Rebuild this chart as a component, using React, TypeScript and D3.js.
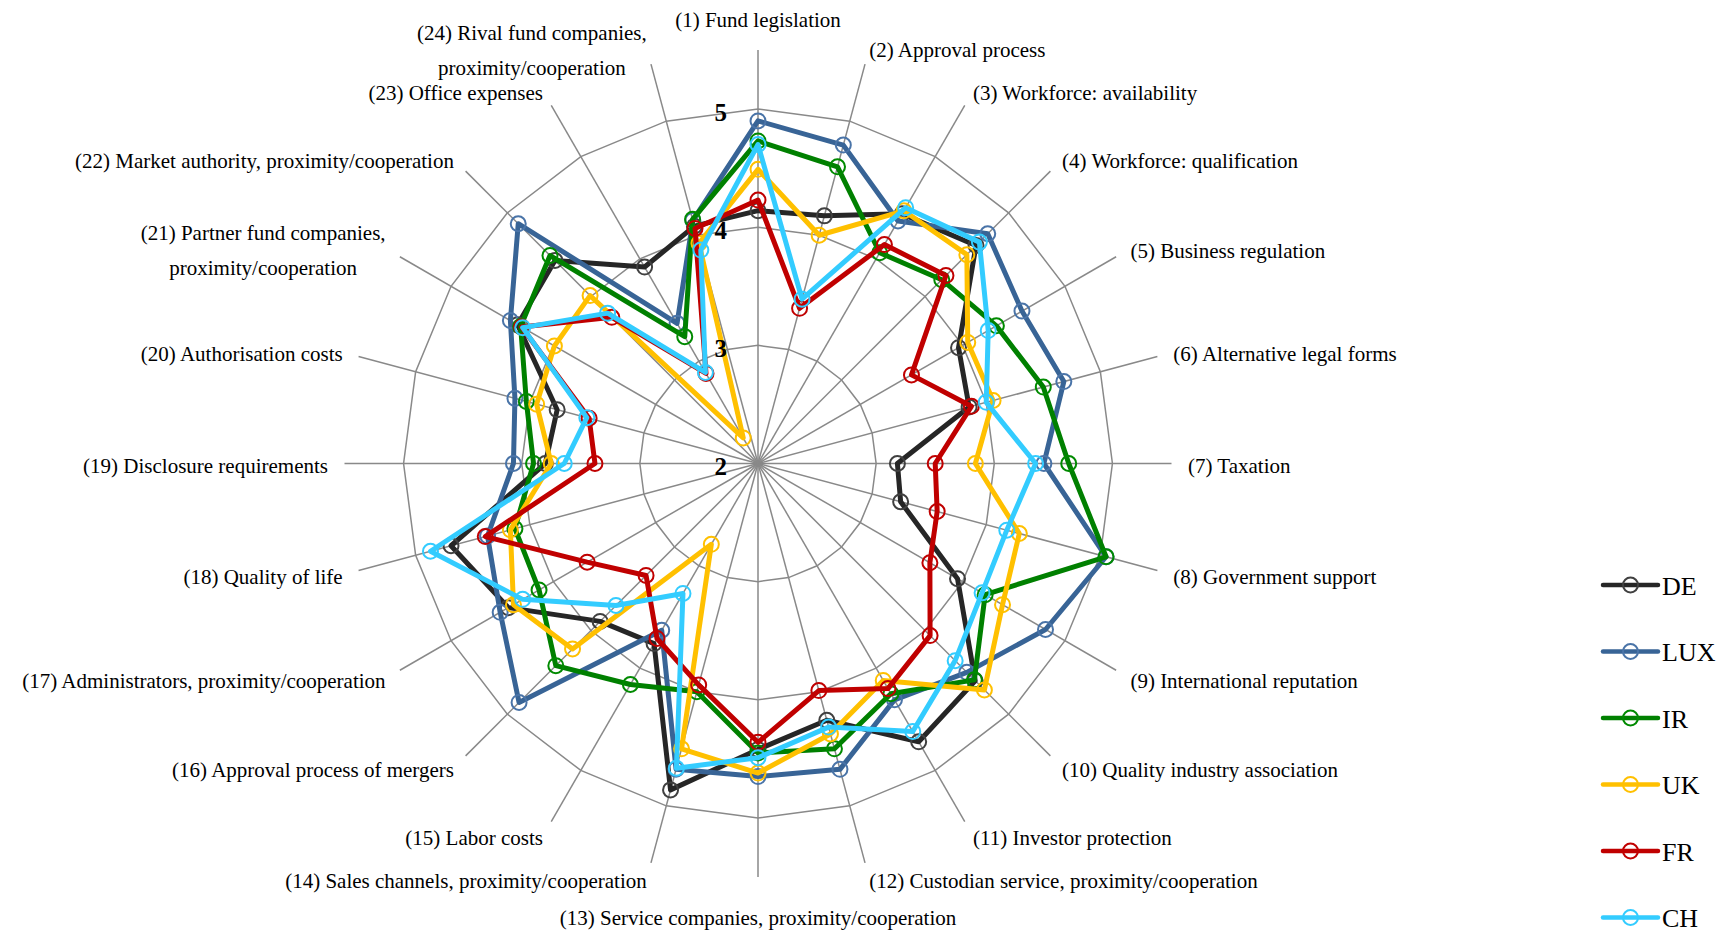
import { useEffect, useRef } from "react";
import * as d3 from "d3";

const CATEGORIES = [
  "(1) Fund legislation",
  "(2) Approval process",
  "(3) Workforce: availability",
  "(4) Workforce: qualification",
  "(5) Business regulation",
  "(6) Alternative legal forms",
  "(7) Taxation",
  "(8) Government support",
  "(9) International reputation",
  "(10) Quality industry association",
  "(11) Investor protection",
  "(12) Custodian service, proximity/cooperation",
  "(13) Service companies, proximity/cooperation",
  "(14) Sales channels, proximity/cooperation",
  "(15) Labor costs",
  "(16) Approval process of mergers",
  "(17) Administrators, proximity/cooperation",
  "(18) Quality of life",
  "(19) Disclosure requirements",
  "(20) Authorisation costs",
  "(21) Partner fund companies,\nproximity/cooperation",
  "(22) Market authority, proximity/cooperation",
  "(23) Office expenses",
  "(24) Rival fund companies,\nproximity/cooperation",
];

const DE = [4.14, 4.17, 4.44, 4.61, 3.96, 3.85, 3.18, 3.25, 3.95, 4.6, 4.72, 4.25, 4.42, 4.86, 3.76, 3.89, 4.44, 4.69, 3.8, 3.76, 4.35, 4.43, 3.92, 4.08];
const LUX = [4.9, 4.79, 4.37, 4.75, 4.58, 4.68, 4.42, 5.05, 4.81, 4.5, 4.31, 4.68, 4.65, 4.68, 3.63, 4.86, 4.52, 4.37, 4.07, 4.13, 4.42, 4.87, 3.37, 4.13];
const IR = [4.73, 4.6, 4.06, 4.2, 4.33, 4.5, 4.63, 5.05, 4.22, 4.59, 4.25, 4.5, 4.45, 4.0, 4.16, 4.42, 4.14, 4.13, 3.9, 4.03, 4.32, 4.49, 3.24, 4.14];
const UK = [4.49, 4.0, 4.47, 4.5, 4.05, 4.06, 3.84, 4.29, 4.39, 4.71, 4.12, 4.37, 4.62, 4.5, 2.79, 4.22, 4.39, 4.17, 3.75, 3.94, 3.99, 4.01, 2.25, 3.93];
const FR = [4.23, 3.36, 4.14, 4.25, 3.5, 3.87, 3.5, 3.57, 3.68, 4.06, 4.2, 3.99, 4.36, 3.94, 3.71, 3.34, 3.67, 4.39, 3.38, 3.48, 4.31, 3.75, 2.88, 4.06];
const CH = [4.7, 3.44, 4.5, 4.65, 4.25, 4.0, 4.35, 4.18, 4.19, 4.36, 4.62, 4.31, 4.49, 4.67, 3.27, 3.7, 4.3, 4.87, 3.64, 3.5, 4.3, 3.8, 2.89, 3.87];

const SERIES_NAMES = ["DE", "LUX", "IR", "UK", "FR", "CH"];
const SERIES_VALUES = [DE, LUX, IR, UK, FR, CH];
const LINE_COLORS = ["#262626", "#386496", "#008000", "#ffc000", "#c00000", "#33ccff"];
const MARKER_COLORS = ["#404040", "#4a74a8", "#008a00", "#ffc000", "#c00000", "#33ccff"];

const TICKS = [2, 3, 4, 5];
const AXIS_MIN = 2;
const AXIS_MAX = 5.5;

const FONT = '"Liberation Serif", "Times New Roman", Times, serif';

export default function App() {
  const svgRef = useRef<SVGSVGElement>(null);

  useEffect(() => {
    if (!svgRef.current) return;
    const svg = d3.select(svgRef.current);
    svg.selectAll("*").remove();

    const width = 1731;
    const height = 931;
    const cx = 758;
    const cy = 463.5;
    const n = CATEGORIES.length;
    const step = (2 * Math.PI) / n;

    svg.attr("viewBox", `0 0 ${width} ${height}`).style("font-family", FONT);

    const r = d3.scaleLinear().domain([AXIS_MIN, AXIS_MAX]).range([0, 413.5]);

    const g = svg.append("g").attr("transform", `translate(${cx},${cy})`);

    // grid rings
    const ring = d3
      .lineRadial<number>()
      .angle((_, i) => i * step)
      .radius((d) => r(d))
      .curve(d3.curveLinearClosed);

    g.selectAll("path.ring")
      .data(TICKS.filter((t) => t > AXIS_MIN))
      .join("path")
      .attr("class", "ring")
      .attr("d", (t) => ring(d3.range(n).map(() => t)))
      .attr("fill", "none")
      .attr("stroke", "#898989")
      .attr("stroke-width", 1.5);

    // spokes
    g.selectAll("line.spoke")
      .data(d3.range(n))
      .join("line")
      .attr("class", "spoke")
      .attr("x1", 0)
      .attr("y1", 0)
      .attr("x2", (i) => r(AXIS_MAX) * Math.sin(i * step))
      .attr("y2", (i) => -r(AXIS_MAX) * Math.cos(i * step))
      .attr("stroke", "#898989")
      .attr("stroke-width", 1.5);

    // series
    SERIES_VALUES.forEach((vals, s) => {
      g.append("path")
        .attr("d", ring(vals))
        .attr("fill", "none")
        .attr("stroke", LINE_COLORS[s])
        .attr("stroke-width", 5)
        .attr("stroke-linejoin", "round");

      g.selectAll(`circle.m${s}`)
        .data(vals)
        .join("circle")
        .attr("class", `m${s}`)
        .attr("cx", (d, i) => r(d) * Math.sin(i * step))
        .attr("cy", (d, i) => -r(d) * Math.cos(i * step))
        .attr("r", 7.5)
        .attr("fill", "none")
        .attr("stroke", MARKER_COLORS[s])
        .attr("stroke-width", 2);
    });

    // value labels on the first axis
    g.selectAll("text.tick")
      .data(TICKS)
      .join("text")
      .attr("class", "tick")
      .attr("x", -31)
      .attr("y", (t) => -r(t) + 3)
      .attr("text-anchor", "end")
      .attr("dominant-baseline", "central")
      .style("font-family", FONT)
      .style("font-weight", "bold")
      .style("font-size", "25px")
      .attr("fill", "#000")
      .text((t) => t);

    // category labels
    const labelR = 430;
    CATEGORIES.forEach((label, i) => {
      const a = i * step;
      const sin = Math.sin(a);
      const cos = Math.cos(a);
      const x = labelR * sin;
      let y = -labelR * cos;
      let anchor = "start";
      if (Math.abs(sin) < 0.01) {
        anchor = "middle";
        y = cos > 0 ? -446 : 452;
      } else if (sin < 0) {
        anchor = "end";
      }
      const lines = label.split("\n");
      if (lines.length === 1) {
        g.append("text")
          .attr("x", x)
          .attr("y", y + 2)
          .attr("text-anchor", anchor)
          .attr("dominant-baseline", "central")
          .style("font-family", FONT)
          .style("font-size", "21px")
          .attr("fill", "#000")
          .text(label);
      } else {
        const lineH = 35;
        const texts = lines.map((ln, k) =>
          g
            .append("text")
            .attr("y", y + 2 + (k - (lines.length - 1) / 2) * lineH)
            .attr("text-anchor", "middle")
            .attr("dominant-baseline", "central")
            .style("font-family", FONT)
            .style("font-size", "21px")
            .attr("fill", "#000")
            .text(ln)
        );
        const blockW = d3.max(texts, (t) => (t.node() as SVGTextElement).getComputedTextLength()) ?? 0;
        const mid = anchor === "end" ? x - blockW / 2 : anchor === "start" ? x + blockW / 2 : x;
        texts.forEach((t) => t.attr("x", mid));
      }
    });

    // legend
    const legend = svg.append("g").attr("transform", "translate(1603,585)");
    SERIES_NAMES.forEach((name, s) => {
      const row = legend.append("g").attr("transform", `translate(0,${s * 66.5})`);
      row
        .append("line")
        .attr("x1", 0)
        .attr("x2", 55)
        .attr("y1", 0)
        .attr("y2", 0)
        .attr("stroke", LINE_COLORS[s])
        .attr("stroke-width", 4.5)
        .attr("stroke-linecap", "round");
      row
        .append("circle")
        .attr("cx", 27.5)
        .attr("cy", 0)
        .attr("r", 7.5)
        .attr("fill", "none")
        .attr("stroke", MARKER_COLORS[s])
        .attr("stroke-width", 2);
      row
        .append("text")
        .attr("x", 59)
        .attr("y", 1)
        .attr("dominant-baseline", "central")
        .style("font-family", FONT)
        .style("font-size", "26px")
        .attr("fill", "#000")
        .text(name);
    });
  }, []);

  return (
    <svg
      ref={svgRef}
      width={1731}
      height={931}
      style={{ position: "absolute", left: 0, top: 0, background: "#fff" }}
    />
  );
}
